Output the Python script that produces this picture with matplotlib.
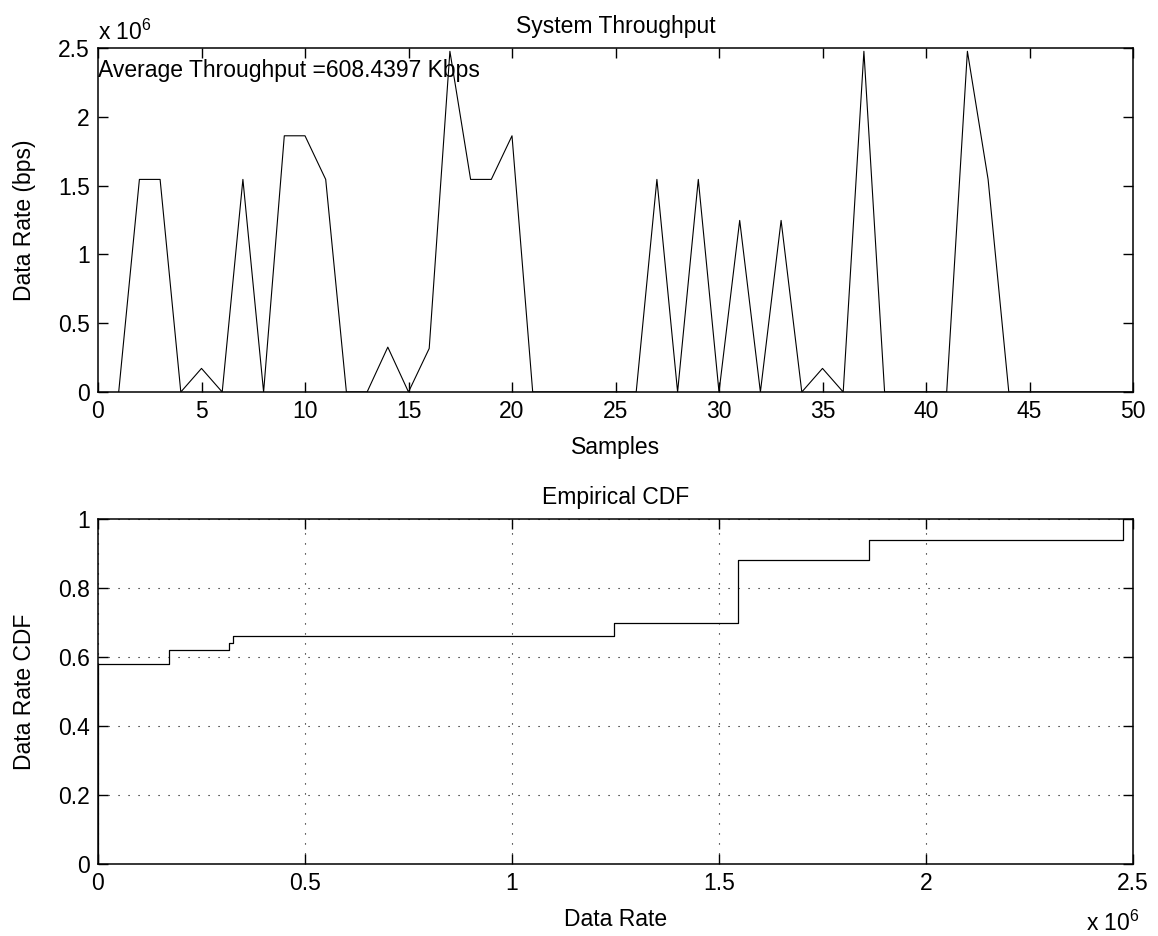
import matplotlib
matplotlib.use('Agg')
import matplotlib.pyplot as plt
import numpy as np
from matplotlib.ticker import FuncFormatter

plt.rcParams['font.family'] = ['Liberation Sans', 'DejaVu Sans']
plt.rcParams['mathtext.fontset'] = 'custom'
plt.rcParams['mathtext.rm'] = 'Liberation Sans'
plt.rcParams['mathtext.it'] = 'Liberation Sans'
FS = 16.5
plt.rcParams['font.size'] = FS

# per-sample throughput in bps
samples = np.arange(1, 51)
rate_bps = [
    0, 1.545e6, 1.545e6, 0, 0.1715e6, 0, 1.545e6, 0, 1.862e6, 1.862e6,
    1.545e6, 0, 0, 0.326e6, 0, 0.3164e6, 2.476e6, 1.545e6, 1.545e6, 1.862e6,
    0, 0, 0, 0, 0, 0, 1.545e6, 0, 1.545e6, 0,
    1.247e6, 0, 1.247e6, 0, 0.1715e6, 0, 2.476e6, 0, 0, 0,
    0, 2.476e6, 1.545e6, 0, 0, 0, 0, 0, 0, 0,
]
avg_label = 'Average Throughput =608.4397 Kbps'

top_xticks = list(range(0, 51, 5))
top_yticks = [0, 0.5e6, 1e6, 1.5e6, 2e6, 2.5e6]
cdf_xticks = [0, 0.5e6, 1e6, 1.5e6, 2e6, 2.5e6]
cdf_yticks = [0, 0.2, 0.4, 0.6, 0.8, 1.0]

mega = FuncFormatter(lambda v, pos: f'{v / 1e6:g}')
plain = FuncFormatter(lambda v, pos: f'{v:g}')


def _style(ax):
    for sp in ax.spines.values():
        sp.set_linewidth(1.1)
    ax.tick_params(direction='in', length=7, width=1.0, top=True, right=True,
                   pad=6, labelsize=FS)


fig = plt.figure(figsize=(11.58, 9.36), dpi=100)
W, H = 1158, 936

# top: throughput per sample
ax1 = fig.add_axes([98 / W, 1 - 392 / H, 1035 / W, 344 / H])
ax1.plot(samples, rate_bps, color='black', linewidth=0.8)
ax1.set_xlim(0, 50)
ax1.set_ylim(0, 2.5e6)
ax1.set_xticks(top_xticks)
ax1.set_yticks(top_yticks)
ax1.yaxis.set_major_formatter(mega)
ax1.xaxis.set_major_formatter(plain)
_style(ax1)
ax1.set_title('System Throughput', fontsize=FS, pad=11)
ax1.set_xlabel('Samples', fontsize=FS, labelpad=9)
ax1.set_ylabel('Data Rate (bps)', fontsize=FS, labelpad=16)
ax1.text(0, 2.34e6, avg_label, ha='left', va='center', fontsize=FS)
ax1.text(0, 1.01, r'x 10$^{6}$', transform=ax1.transAxes, ha='left', va='bottom',
         fontsize=FS)

# bottom: empirical CDF
ax2 = fig.add_axes([98 / W, 1 - 864 / H, 1035 / W, 345 / H])
ax2.ecdf(rate_bps, color='black', linewidth=0.9)
ax2.set_xlim(0, 2.5e6)
ax2.set_ylim(0, 1)
ax2.set_xticks(cdf_xticks)
ax2.set_yticks(cdf_yticks)
ax2.xaxis.set_major_formatter(mega)
ax2.yaxis.set_major_formatter(plain)
ax2.grid(True, linestyle=(0, (1, 8)), color='black', linewidth=0.8)
_style(ax2)
ax2.set_title('Empirical CDF', fontsize=FS, pad=11)
ax2.set_xlabel('Data Rate', fontsize=FS, labelpad=9)
ax2.set_ylabel('Data Rate CDF', fontsize=FS, labelpad=16)
ax2.text(0.98, -0.135, r'x 10$^{6}$', transform=ax2.transAxes, ha='center',
         va='top', fontsize=FS)

fig.savefig('out.png', dpi=100)
